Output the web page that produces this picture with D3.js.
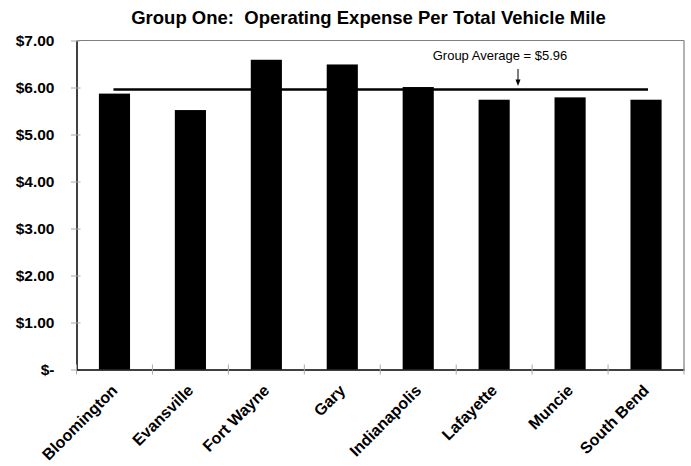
<!DOCTYPE html>
<html>
<head>
<meta charset="utf-8">
<script src="https://cdn.jsdelivr.net/npm/d3@7"></script>
<style>
  html, body { margin: 0; padding: 0; background: #fff; }
  svg { display: block; font-family: "Liberation Sans", Arial, sans-serif; }
</style>
</head>
<body>
<svg id="chart" width="691" height="466"></svg>
<script>
const categories = ["Bloomington", "Evansville", "Fort Wayne", "Gary", "Indianapolis", "Lafayette", "Muncie", "South Bend"];
const values = [5.87, 5.52, 6.59, 6.49, 6.01, 5.74, 5.79, 5.74];
const groupAverage = 5.96;
const yTicks = [0, 1, 2, 3, 4, 5, 6, 7];
const titleText = "Group One:  Operating Expense Per Total Vehicle Mile";
const annotationText = "Group Average = $5.96";

const svg = d3.select("#chart");
const W = 691, H = 466;
const x0 = 76.5, x1 = 684;
const y0 = 369.5, y1 = 40.5;

const x = d3.scaleBand().domain(categories).range([x0, x1]).paddingInner(0.59).paddingOuter(0.295);
const xb = d3.scaleBand().domain(categories).range([x0, x1]).padding(0);
const y = d3.scaleLinear().domain([0, 7]).range([y0, y1]);

// title
svg.append("text")
  .attr("x", 368.5).attr("y", 24)
  .attr("text-anchor", "middle")
  .attr("font-size", 18.5).attr("font-weight", "bold")
  .attr("xml:space", "preserve")
  .text(titleText);

// frame top/right (gray)
svg.append("line").attr("x1", x0).attr("x2", x1).attr("y1", y1).attr("y2", y1).attr("stroke", "#808080").attr("stroke-width", 1.2);
svg.append("line").attr("x1", x1).attr("x2", x1).attr("y1", y1).attr("y2", y0).attr("stroke", "#808080").attr("stroke-width", 1.2);

// bars
svg.append("g").selectAll("rect").data(categories).join("rect")
  .attr("x", d => x(d))
  .attr("width", x.bandwidth())
  .attr("y", (d, i) => y(values[i]))
  .attr("height", (d, i) => y(0) - y(values[i]))
  .attr("fill", "#000");

// y axis
const yAxis = d3.axisLeft(y).tickValues(yTicks).tickSize(0).tickPadding(22)
  .tickFormat(d => d === 0 ? "$-" : "$" + d3.format(".2f")(d));
const gy = svg.append("g").attr("transform", `translate(${x0},0)`).call(yAxis);
gy.select(".domain").attr("stroke", "#000").attr("stroke-width", 1.5);
gy.selectAll(".tick text").attr("font-size", 15.5).attr("font-weight", "bold").attr("fill", "#000")
  .attr("font-family", "Liberation Sans, Arial, sans-serif");
gy.selectAll(".tick").append("line").attr("x1", -5.5).attr("x2", 4).attr("stroke", "#aaa").attr("stroke-width", 1);

// x axis
const xAxis = d3.axisBottom(xb).tickSize(0).tickFormat(d => d);
const gx = svg.append("g").attr("transform", `translate(0,${y0})`).call(xAxis);
gx.select(".domain").attr("stroke", "#000").attr("stroke-width", 1.5);
gx.selectAll(".tick text")
  .attr("font-size", 16).attr("font-weight", "bold").attr("fill", "#000")
  .attr("font-family", "Liberation Sans, Arial, sans-serif")
  .attr("text-anchor", "end")
  .attr("y", 0).attr("dy", 0)
  .attr("transform", "translate(4,22) rotate(-45)");
// boundary ticks
const bounds = categories.map(c => xb(c)).concat([x1]);
svg.append("g").selectAll("line").data(bounds).join("line")
  .attr("x1", d => d).attr("x2", d => d)
  .attr("y1", y0 - 5).attr("y2", y0 + 5)
  .attr("stroke", "#aaa").attr("stroke-width", 1);

// average line
const cx = c => xb(c) + xb.bandwidth() / 2;
svg.append("line")
  .attr("x1", cx(categories[0]) - 1).attr("x2", cx(categories[categories.length - 1]) + 2)
  .attr("y1", y(groupAverage)).attr("y2", y(groupAverage))
  .attr("stroke", "#000").attr("stroke-width", 2.5);

// annotation
svg.append("text").attr("x", 500).attr("y", 59.5).attr("text-anchor", "middle")
  .attr("font-size", 13).attr("fill", "#000").text(annotationText);
const ax = 518;
const ay = y(groupAverage);
svg.append("line").attr("x1", ax).attr("x2", ax).attr("y1", 69).attr("y2", ay - 7)
  .attr("stroke", "#000").attr("stroke-width", 1);
svg.append("path")
  .attr("d", `M${ax - 2.5},${ay - 10} L${ax + 2.5},${ay - 10} L${ax},${ay - 3.5} Z`)
  .attr("fill", "#000");
</script>
</body>
</html>
